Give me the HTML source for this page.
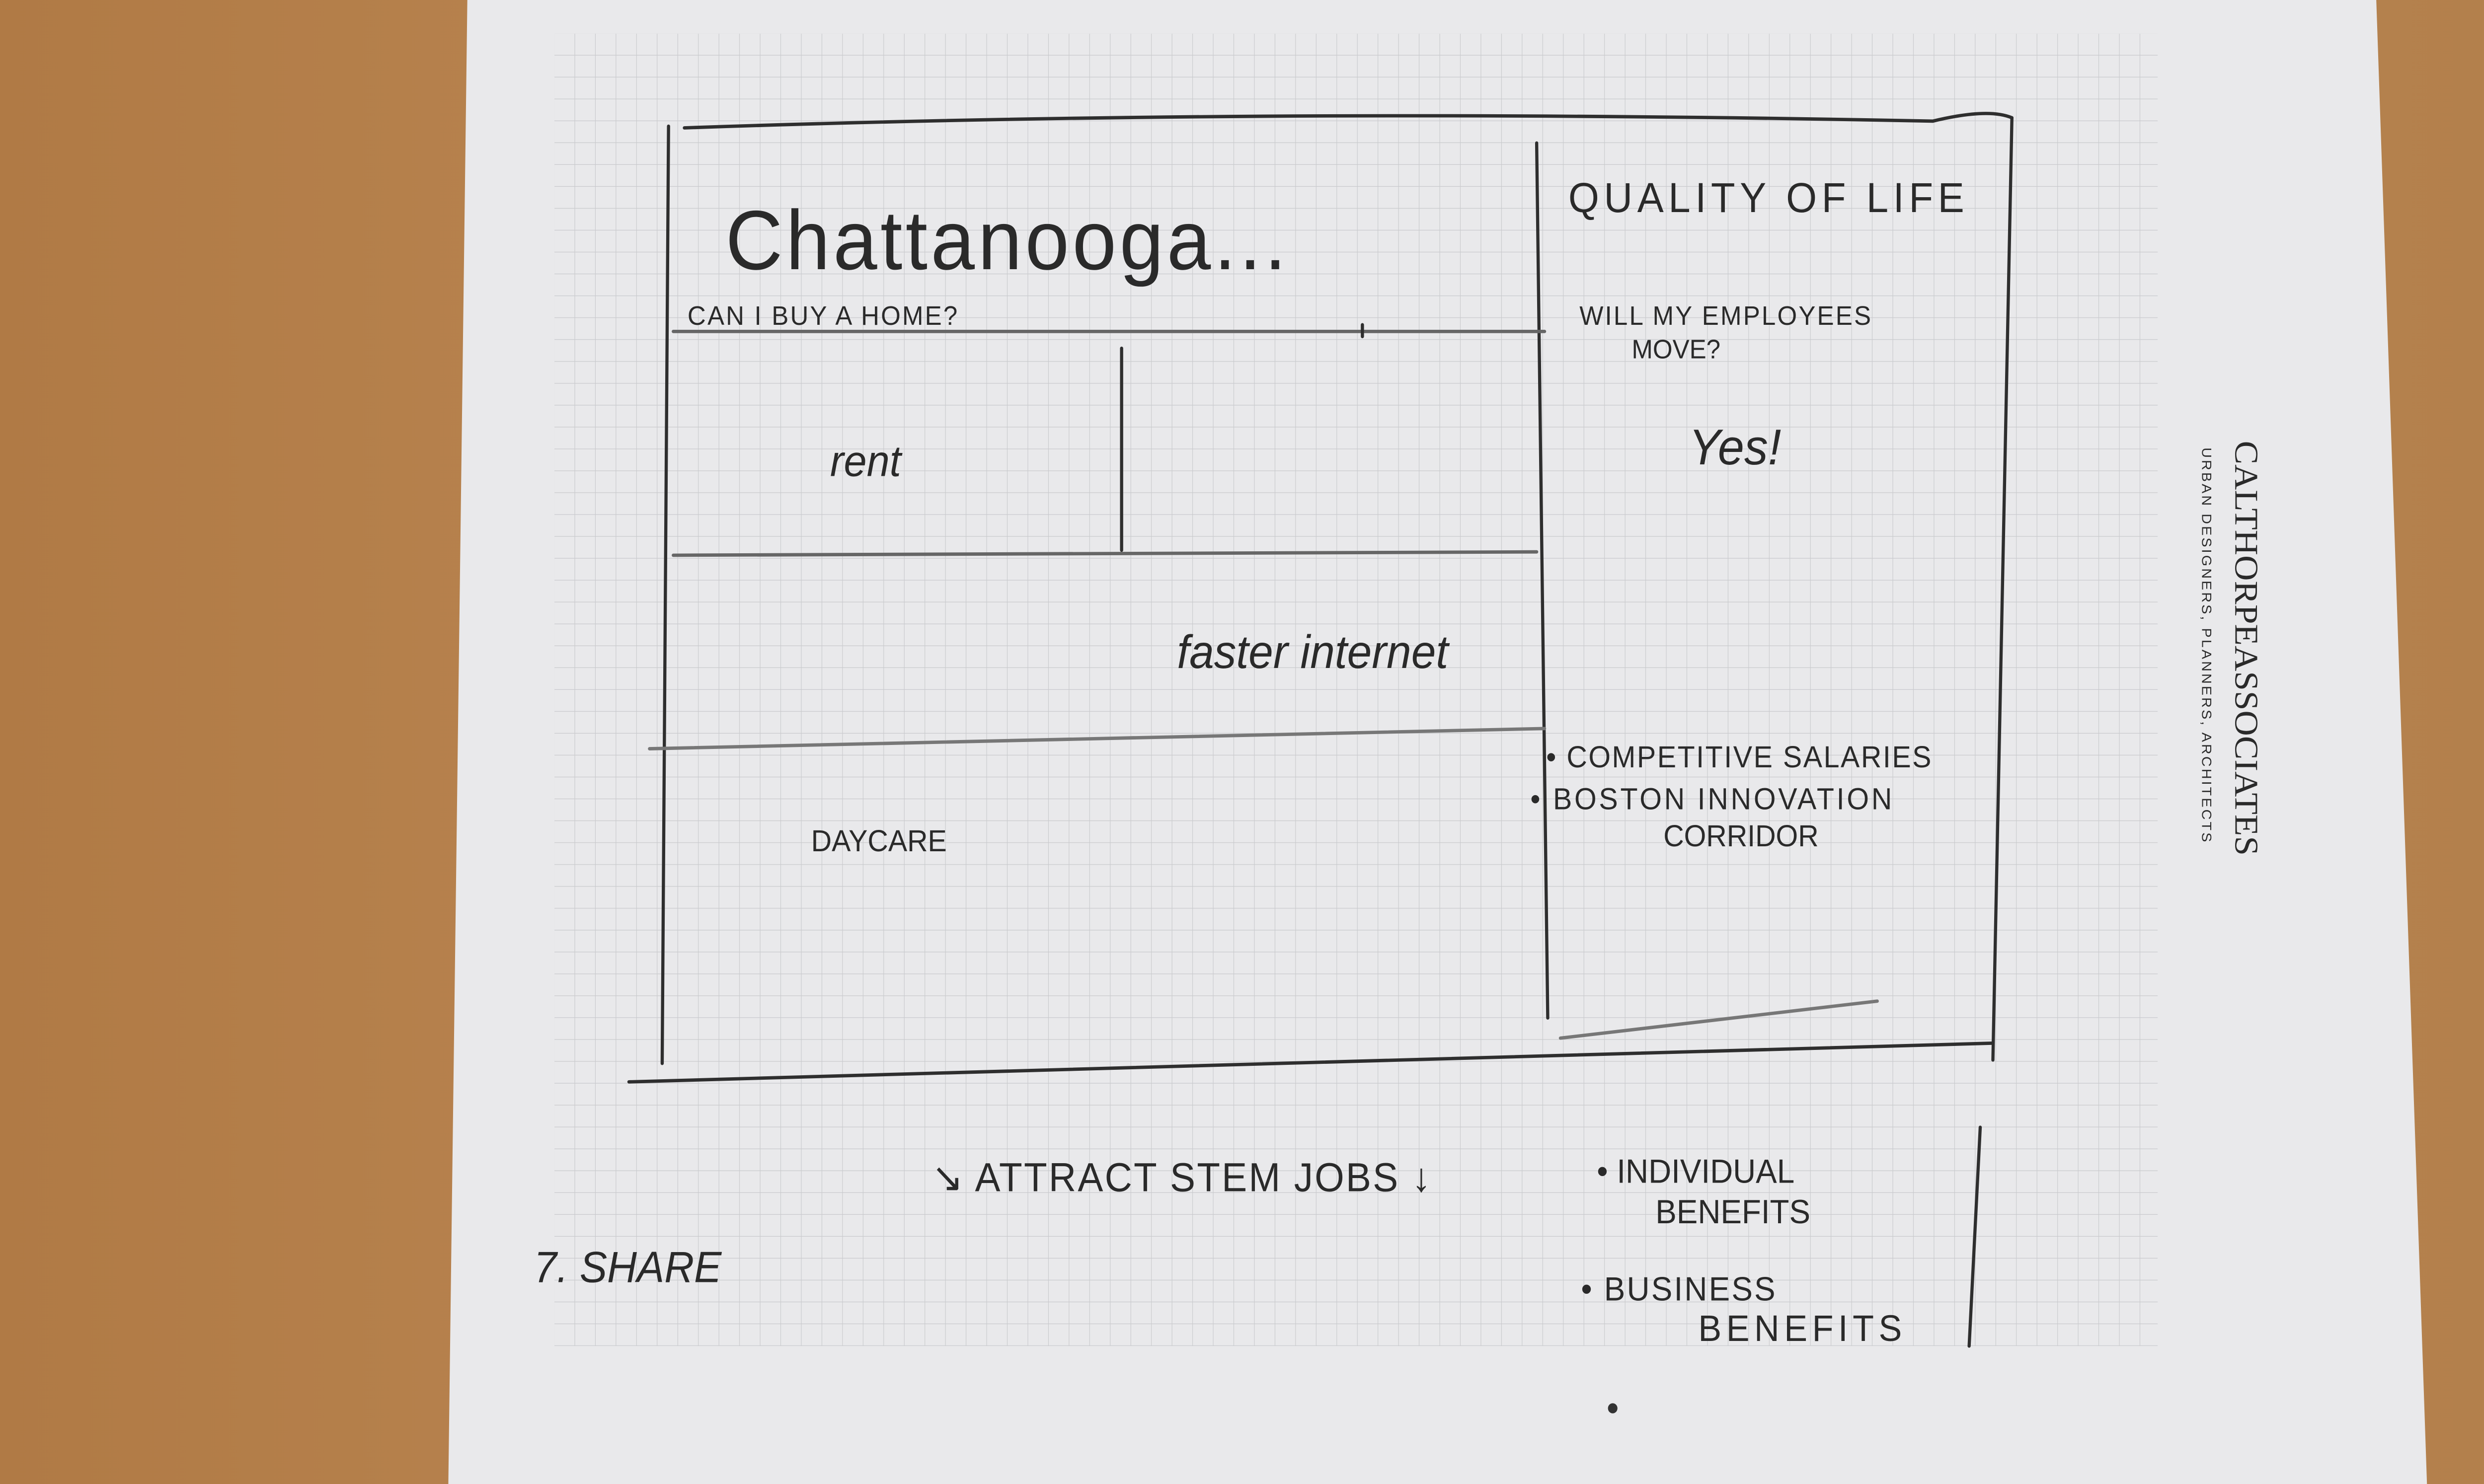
<!DOCTYPE html>
<html><head><meta charset="utf-8">
<style>
html,body{margin:0;padding:0;width:100%;height:100%;overflow:hidden;background:#b7854f;}
#w{position:fixed;left:0;top:0;width:100vw;height:100vh;overflow:hidden;}
svg{display:block;width:100vw;height:100vh;overflow:hidden}
text{font-family:"Liberation Sans Narrow","Liberation Sans",sans-serif;fill:#2a2a2a;}
</style></head>
<body>
<div id="w">
<svg viewBox="0 0 1568 882" preserveAspectRatio="none" xmlns="http://www.w3.org/2000/svg">
<defs>
<linearGradient id="wood" x1="0" y1="0" x2="1" y2="0">
<stop offset="0" stop-color="#b07a45"/><stop offset="0.5" stop-color="#bf8c58"/><stop offset="1" stop-color="#b3804c"/>
</linearGradient>
<pattern id="grid" width="13" height="13" patternUnits="userSpaceOnUse" x="350" y="20">
<path d="M13 0 V13 M0 13 H13" stroke="#c9cacd" stroke-width="0.7" fill="none"/>
</pattern>
</defs>
<rect width="1568" height="882" fill="url(#wood)"/>
<polygon points="295,0 1500,0 1532,882 283,882" fill="#e9e9eb"/>
<rect x="350" y="20" width="1012" height="780" fill="url(#grid)"/>
<g stroke="#2e2e2e" stroke-width="2" fill="none" stroke-linecap="round">
<path d="M432,76 Q800,64 1220,72 Q1255,64 1270,70"/>
<path d="M422,75 L418,632"/>
<path d="M1270,70 L1258,630"/>
<path d="M970,85 L977,605"/>
<path d="M397,643 L1258,620"/>
<path d="M985,617 L1185,595" stroke="#777"/>
<path d="M425,197 L975,197" stroke="#666"/>
<path d="M708,207 L708,327"/>
<path d="M425,330 L970,328" stroke="#666"/>
<path d="M410,445 L975,433" stroke="#777"/>
<path d="M1250,670 L1243,800"/>
<path d="M860,193 L860,200"/>
</g>
<text x="458" y="160" font-size="50" letter-spacing="2">Chattanooga...</text>
<text x="434" y="193" font-size="16" letter-spacing="1">CAN I BUY A HOME?</text>
<text x="524" y="283" font-size="26" font-style="italic">rent</text>
<text x="743" y="397" font-size="28" font-style="italic">faster internet</text>
<text x="512" y="506" font-size="18" fill="#555">DAYCARE</text>
<text x="990" y="126" font-size="25" letter-spacing="3">QUALITY OF LIFE</text>
<text x="997" y="193" font-size="16" letter-spacing="1">WILL MY EMPLOYEES</text>
<text x="1030" y="213" font-size="16">MOVE?</text>
<text x="1066" y="276" font-size="30" font-style="italic">Yes!</text>
<text x="976" y="456" font-size="18" letter-spacing="0.8">• COMPETITIVE SALARIES</text>
<text x="966" y="481" font-size="18" letter-spacing="1.5">• BOSTON INNOVATION</text>
<text x="1050" y="503" font-size="18">CORRIDOR</text>
<text x="588" y="708" font-size="24" letter-spacing="1">↘ ATTRACT  STEM JOBS ↓</text>
<text x="337" y="762" font-size="26" font-style="italic">7. SHARE</text>
<text x="1008" y="703" font-size="20">• INDIVIDUAL</text>
<text x="1045" y="727" font-size="20">BENEFITS</text>
<text x="998" y="773" font-size="20" letter-spacing="1">• BUSINESS</text>
<text x="1072" y="797" font-size="22" letter-spacing="3">BENEFITS</text>
<circle cx="1018" cy="837" r="3" fill="#333"/>
<text transform="translate(1411,262) rotate(90)" font-size="21" style="font-family:'Liberation Serif',serif" fill="#b06e5e">CALTHORPEASSOCIATES</text>
<text transform="translate(1390,266) rotate(90)" font-size="8.5" fill="#8a8a8a" letter-spacing="1.2">URBAN DESIGNERS, PLANNERS, ARCHITECTS</text>
</svg>
</div>
</body></html>
